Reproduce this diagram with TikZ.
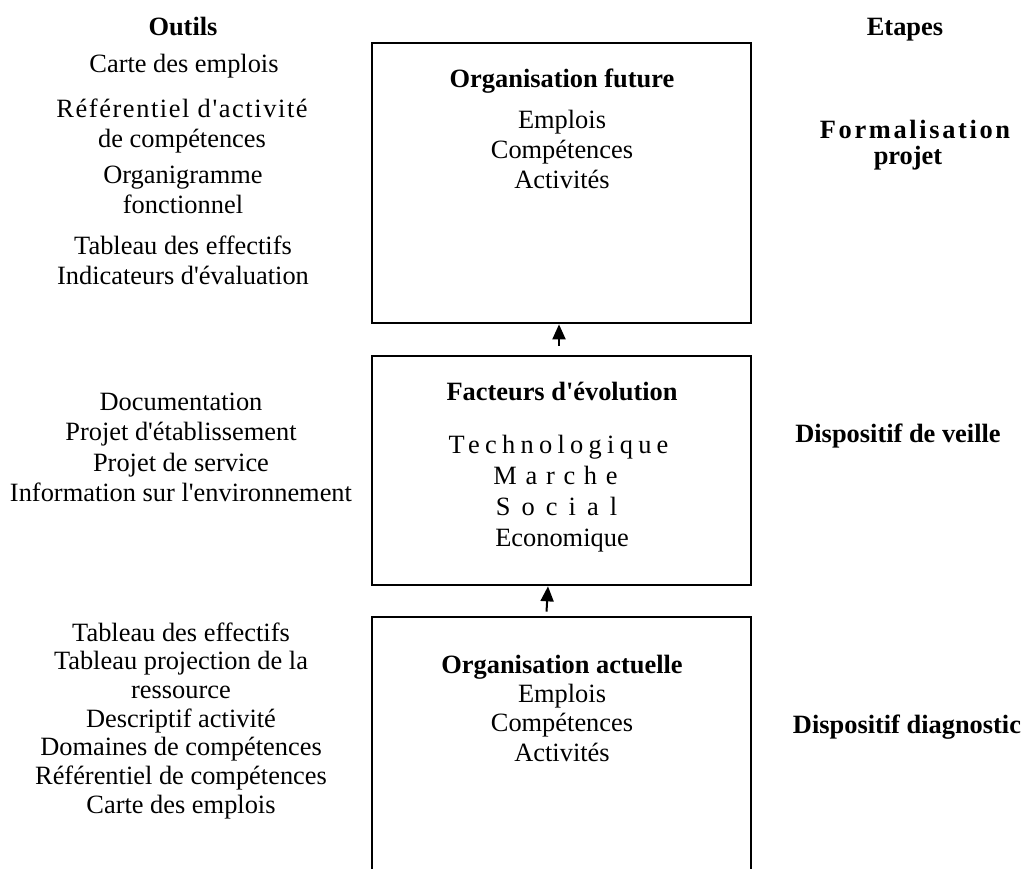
\documentclass[tikz,border=0pt]{standalone}
\usepackage{fontspec}
\setmainfont{Liberation Serif}[Ligatures=TeXOff]
\usetikzlibrary{arrows.meta,calc}

% centred stack of lines whose baseline is the first line
\newcommand\colstack[1]{\begin{tabular}[t]{@{}c@{}}#1\end{tabular}}
% tracked (letter-spaced) word
\newcommand\spaced[2]{{\addfontfeature{LetterSpace=#1}#2}}

\begin{document}
\begin{tikzpicture}[x=1pt,y=-1pt,
  frame/.style={draw, line width=2.7pt, minimum width=379pt, inner sep=0pt},
  lbl/.style={inner sep=0pt, anchor=base, font=\fontsize{26.4}{30}\selectfont},
  head/.style={inner sep=0pt, anchor=base, font=\fontsize{26.4}{30}\selectfont\bfseries},
  link/.style={line width=2pt, -{Triangle[length=15pt,width=13pt]}}]

\useasboundingbox (0,0) rectangle (1025,868);
\clip (0,0) rectangle (1025,868);

% the three stages
\node[frame, minimum height=280pt] (b1) at (561.5,183) {};
\node[frame, minimum height=229pt] (b2) at (561.5,470.5) {};
\node[frame, minimum height=283pt] (b3) at (561.5,758.5) {};

% contents of the stages
\node[head] (b1t) at (562,87) {Organisation future};
\node[lbl] (b1l) at (562,128) {\colstack{Emplois\\Compétences\\Activités}};

\node[head] (b2t) at (562,400) {Facteurs d'évolution};
\node[lbl, font=\fontsize{26.4}{31}\selectfont] (b2s1) at (558.5,453) {\spaced{20}{Technologique}};
\node[lbl, font=\fontsize{26.4}{31}\selectfont] (b2s2) at (555.5,484) {\spaced{33}{Marche}};
\node[lbl, font=\fontsize{26.4}{31}\selectfont] (b2s3) at (556.5,515) {\spaced{42}{Social}};
\node[lbl, font=\fontsize{26.4}{31}\selectfont] (b2s4) at (562,546) {Economique};

\node[head] (b3t) at (562,673) {Organisation actuelle};
\node[lbl, font=\fontsize{26.4}{29.5}\selectfont] (b3l) at (562,702)
  {\colstack{Emplois\\Compétences\\Activités}};

% links between the stages
\draw[link] ($(b2.north)+(-2.5,-9)$) -- ($(b1.south)+(-2.5,0)$);
\draw[link] ($(b3.north)+(-15,-4)$) -- ($(b2.south)+(-13.5,0)$);

% tools column
\node[head] (outils) at (183,35) {Outils};
\node[lbl] (o1) at (184,72) {Carte des emplois};
\node[lbl] (o2) at (182,117) {\colstack{\spaced{6}{Référentiel d'activité}\\de compétences}};
\node[lbl] (o3) at (183,183) {\colstack{Organigramme\\fonctionnel}};
\node[lbl] (o4) at (183,254) {\colstack{Tableau des effectifs\\Indicateurs d'évaluation}};

\node[lbl, font=\fontsize{26.4}{30.5}\selectfont] (o5) at (181,410)
  {\colstack{Documentation\\Projet d'établissement\\Projet de service\\Information sur l'environnement}};

\node[lbl, font=\fontsize{26.4}{28.7}\selectfont] (o6) at (181,641)
  {\colstack{Tableau des effectifs\\Tableau projection de la\\ressource\\Descriptif activité\\Domaines de compétences\\Référentiel de compétences\\Carte des emplois}};

% steps column
\node[head] (etapes) at (905,35) {Etapes};
\node[head] (e1) at (915,138) {\spaced{10}{Formalisation}};
\node[head] (e1b) at (908,164) {projet};
\node[head] (e2) at (898,442) {Dispositif de veille};
\node[head] (e3) at (907,733) {Dispositif diagnostic};
\end{tikzpicture}
\end{document}
